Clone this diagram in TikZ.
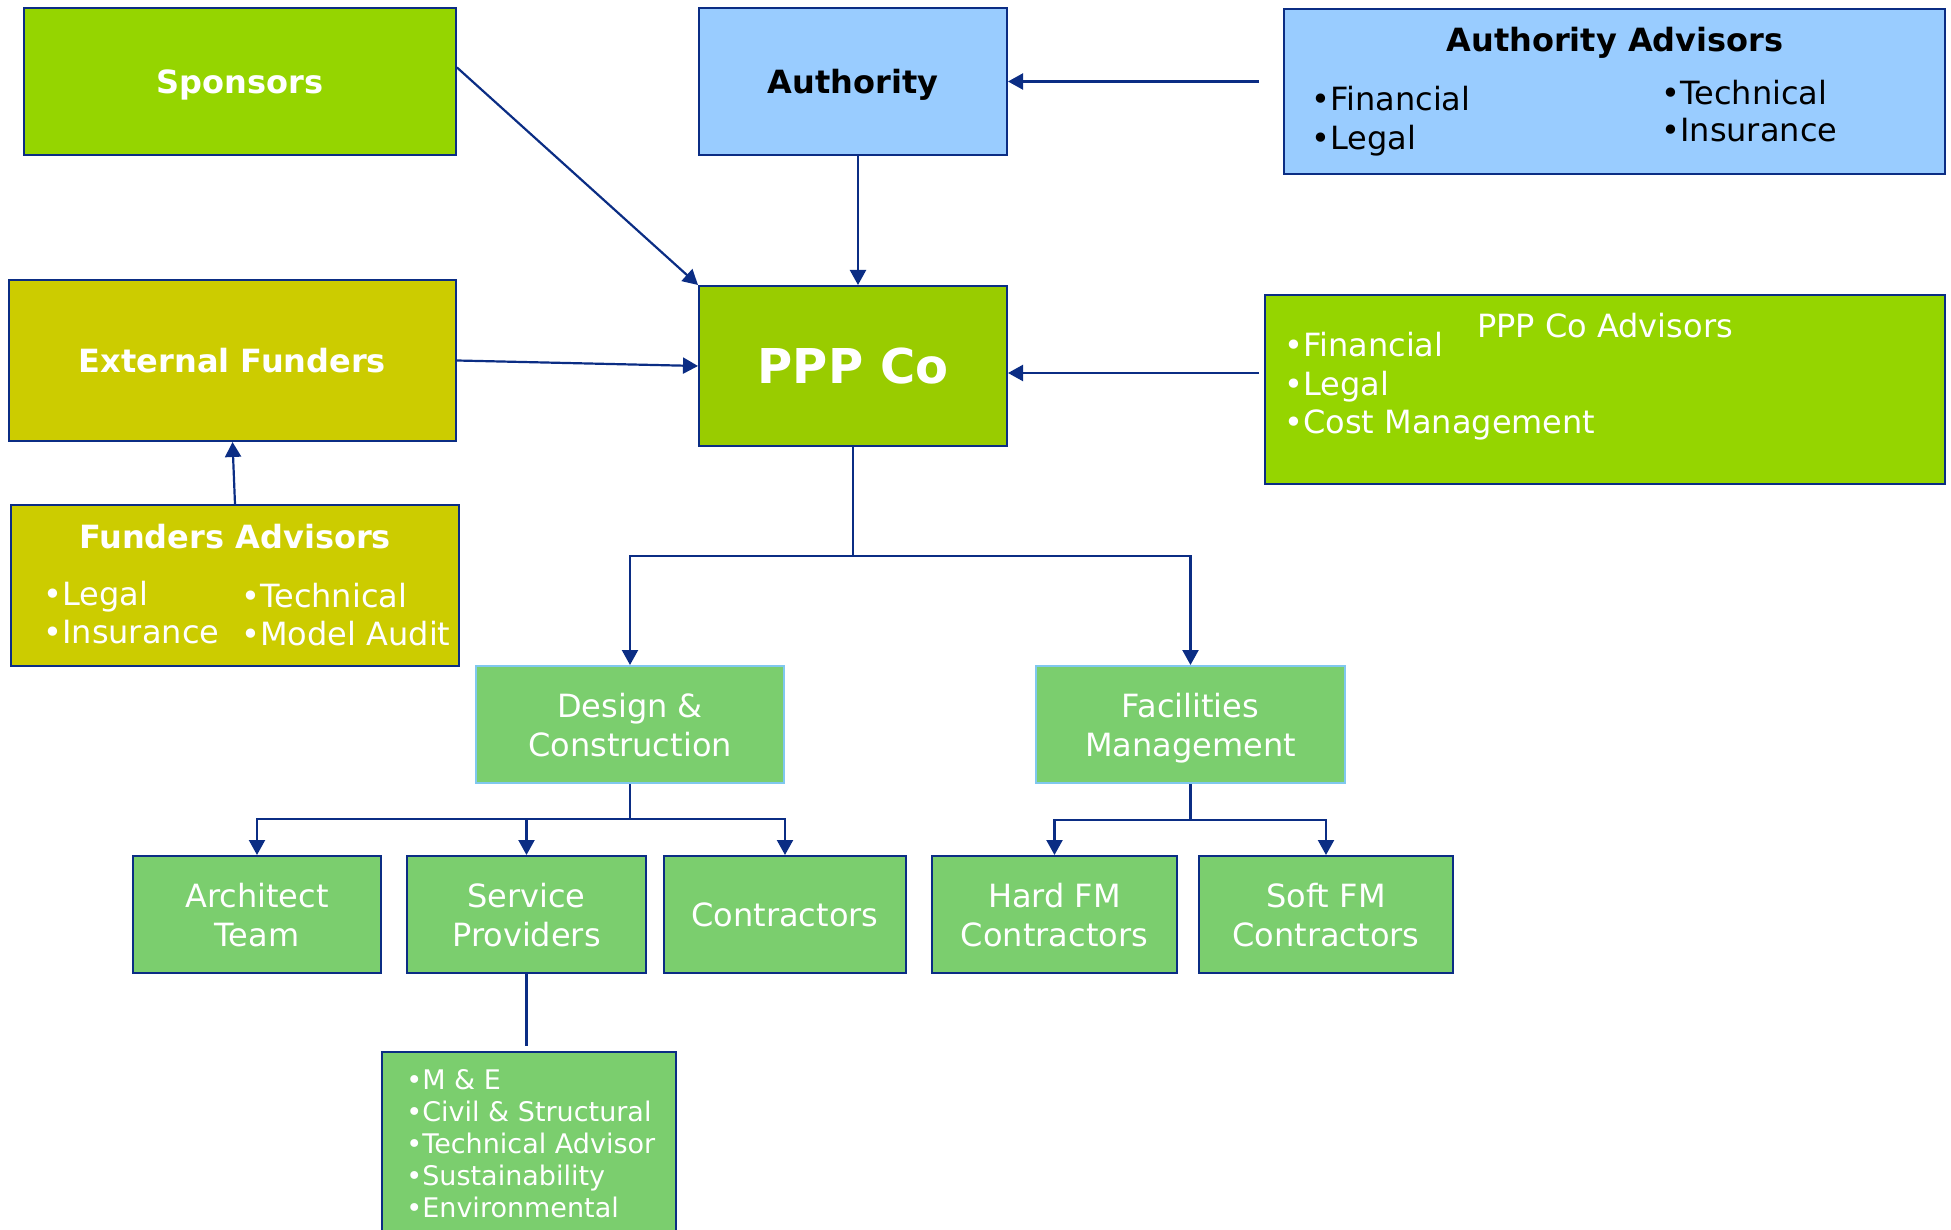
\documentclass[tikz,border=0pt]{standalone}
\usepackage{fontspec}
\setmainfont{DejaVu Sans}
\usetikzlibrary{arrows.meta, positioning}
\definecolor{edgeblue}{HTML}{0B2D84}
\definecolor{skyline}{HTML}{80C8EE}
\definecolor{limegrn}{HTML}{95D500}
\definecolor{pppgrn}{HTML}{99CC00}
\definecolor{mustard}{HTML}{CCCC00}
\definecolor{authblue}{HTML}{99CCFF}
\definecolor{leafgrn}{HTML}{7BCE6E}
\tikzset{
  sz/.style 2 args={minimum width=#1*0.5pt, minimum height=#2*0.5pt},
  blk/.style   ={draw=edgeblue, line width=1pt, inner sep=0pt,
                 align=center, text=white},
  unitbx/.style={blk, fill=leafgrn, text depth=0pt},
  deptbx/.style={blk, fill=leafgrn, draw=skyline, text depth=0pt},
  ttl/.style   ={font=\fontsize{16pt}{19pt}\selectfont\bfseries},
  capc/.style  ={text height=11.7pt, text depth=0pt},
  bod/.style   ={font=\fontsize{16pt}{19.5pt}\selectfont},
  lst/.style   ={font=\fontsize{13.5pt}{16pt}\selectfont, text=white,
                 inner sep=0pt},
  itm/.style   ={bod, inner sep=0pt, anchor=base west},
  wire/.style  ={draw=edgeblue, line width=1.1pt},
  arr/.style   ={wire, -{Triangle[length=7.5pt, width=8pt]}},
}
\begin{document}
\begin{tikzpicture}[x=0.5pt, y=-0.5pt]
  \clip (0,0) rectangle (1951,1230);
  % top row
  \node[blk, ttl, capc, fill=limegrn, sz={432}{147}]  (sp)   at (240,81.5)   {Sponsors};
  \node[blk, ttl, capc, fill=authblue, text=black, sz={308}{147}] (auth) at (853,81.5) {Authority};
  \node[blk, fill=authblue, sz={661}{165}]      (aadv) at (1614.5,91.5) {};
  \node[ttl, inner sep=0pt, anchor=base] (aattl) at (1615,52) {Authority Advisors};
  \node[itm] (aa1) at (1311,111) {•Financial};
  \node[itm] (aa2) at (1311,150) {•Legal};
  \node[itm] (aa3) at (1661,105) {•Technical};
  \node[itm] (aa4) at (1661,142) {•Insurance};
  % middle row
  \node[blk, ttl, capc, fill=mustard, sz={447}{161}]  (ext)  at (232.5,360.5) {External Funders};
  \node[blk, fill=pppgrn, sz={308}{160}, text height=17.5pt, text depth=0pt,
        font=\fontsize{24pt}{28pt}\selectfont\bfseries] (ppp) at (853,366) {PPP Co};
  \node[blk, fill=limegrn, sz={680}{189}]       (padv) at (1605,389.5) {};
  \node[bod, text=white, inner sep=0pt, anchor=base] (pattl) at (1605,338) {PPP Co Advisors};
  \node[itm, text=white] (pa1) at (1284,357) {•Financial};
  \node[itm, text=white] (pa2) at (1284,396) {•Legal};
  \node[itm, text=white] (pa3) at (1284,434) {•Cost Management};
  \node[blk, fill=mustard, sz={448}{161}]       (fadv) at (235,585.5) {};
  \node[ttl, text=white, inner sep=0pt, anchor=base] (fattl) at (235,548) {Funders Advisors};
  \node[itm, text=white] (fa1) at (43,605) {•Legal};
  \node[itm, text=white] (fa2) at (43,643) {•Insurance};
  \node[itm, text=white] (fa3) at (241,607) {•Technical};
  \node[itm, text=white] (fa4) at (241,645) {•Model Audit};
  % delivery side
  \node[deptbx, bod, sz={308}{117}] (dc) at (630,724.5)    {Design \&\\Construction};
  \node[deptbx, bod, sz={309}{117}] (fm) at (1190.5,724.5) {Facilities\\Management};
  \node[unitbx, bod, sz={248}{117}] (arch)  at (257,914.5)   {Architect\\Team};
  \node[unitbx, bod, sz={239}{117}] (serv)  at (526.5,914.5) {Service\\Providers};
  \node[unitbx, bod, sz={242}{117}] (contr) at (785,914.5)   {Contractors};
  \node[unitbx, bod, sz={245}{117}] (hard)  at (1054.5,914.5) {Hard FM\\Contractors};
  \node[unitbx, bod, sz={254}{117}] (soft)  at (1326,914.5)  {Soft FM\\Contractors};
  \node[unitbx, sz={294}{220}] (svlist) at (529,1162) {};
  \foreach \t [count=\i from 0] in {M \& E, Civil \& Structural,
      Technical Advisor, Sustainability, Environmental}
    \node[lst, anchor=base west] (sv\i) at (406,1089+32*\i) {•\t};
  % connectors
  \coordinate (aatail) at (1259,81.5);
  \coordinate (patail) at (1259,373);
  \coordinate (bus1)   at (853,556);
  \coordinate (bus2)   at (630,819);
  \coordinate (bus3)   at (1190.5,820);
  \coordinate (svend)  at (526.5,1046);
  \draw[arr]  ([yshift=7pt]sp.east) -- (ppp.north west);
  \draw[arr]  ([xshift=2.5pt]auth.south) -- ([xshift=2.5pt]ppp.north);
  \draw[arr]  (aatail) -- (auth.east);
  \draw[arr]  (ext.east) -- (ppp.west);
  \draw[arr]  (patail) -- (patail -| ppp.east);
  \draw[arr]  (fadv.north) -- (ext.south);
  \draw[wire] (ppp.south) -- (bus1);
  \draw[arr]  (bus1) -| (dc.north);
  \draw[arr]  (bus1) -| (fm.north);
  \draw[wire] (dc.south) -- (bus2);
  \foreach \n in {arch, serv, contr}
    \draw[arr] (bus2) -| (\n.north);
  \draw[wire] (fm.south) -- (bus3);
  \foreach \n in {hard, soft}
    \draw[arr] (bus3) -| (\n.north);
  \draw[wire] (serv.south) -- (svend);
\end{tikzpicture}
\end{document}
